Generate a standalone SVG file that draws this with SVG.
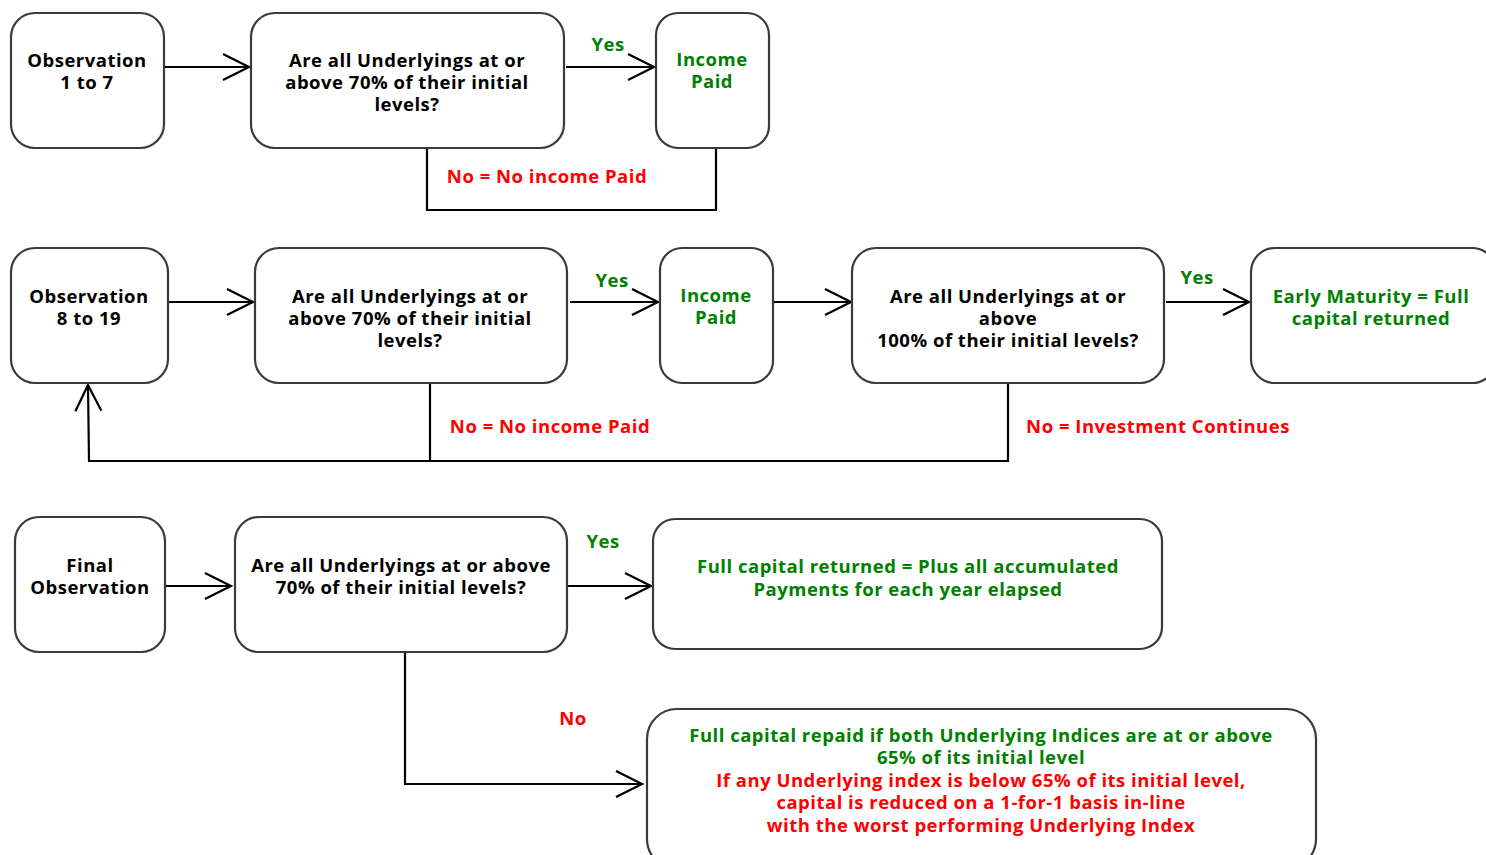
<svg xmlns="http://www.w3.org/2000/svg" width="1486" height="855" viewBox="0 0 1486 855">
<style>
.box{fill:#fff;stroke:#3a3a3a;stroke-width:2.2}
.t{font-family:"Open Sans","Noto Sans",sans-serif;font-weight:700;font-size:18.5px;letter-spacing:0.5px;text-anchor:middle}
.k{fill:#000}
.g{fill:#008000}
.r{fill:#ff0000}
.c{fill:none;stroke:#000;stroke-width:2.2}
</style>
<defs>
<marker id="arr" markerUnits="userSpaceOnUse" viewBox="0 0 30 30" markerWidth="30" markerHeight="30" refX="27" refY="14" orient="auto">
<path d="M1,1 L27,14 L1,27" fill="none" stroke="#000" stroke-width="2.2"/>
</marker>
</defs>
<rect width="1486" height="855" fill="#fff"/>
<g id="connectors">
<line class="c" x1="165" y1="67" x2="249" y2="67" marker-end="url(#arr)"/>
<line class="c" x1="566" y1="67" x2="654" y2="67" marker-end="url(#arr)"/>
<polyline class="c" points="427,148 427,210 716,210 716,148"/>
<line class="c" x1="168" y1="302" x2="253" y2="302" marker-end="url(#arr)"/>
<line class="c" x1="570" y1="302" x2="658" y2="302" marker-end="url(#arr)"/>
<line class="c" x1="773" y1="302" x2="851" y2="302" marker-end="url(#arr)"/>
<line class="c" x1="1166" y1="302" x2="1249" y2="302" marker-end="url(#arr)"/>
<line class="c" x1="430" y1="383" x2="430" y2="461"/>
<polyline class="c" points="1008,383 1008,461 89,461 88,385" marker-end="url(#arr)"/>
<line class="c" x1="166" y1="586" x2="231" y2="586" marker-end="url(#arr)"/>
<line class="c" x1="567" y1="586" x2="651" y2="586" marker-end="url(#arr)"/>
<polyline class="c" points="405,652 405,784 642,784" marker-end="url(#arr)"/>
<text class="t g" x="608" y="51">Yes</text>
<text class="t r" x="547" y="183">No = No income Paid</text>
<text class="t g" x="612" y="287">Yes</text>
<text class="t g" x="1197" y="284">Yes</text>
<text class="t r" x="550" y="433">No = No income Paid</text>
<text class="t r" x="1158" y="433">No = Investment Continues</text>
<text class="t g" x="603" y="548">Yes</text>
<text class="t r" x="573" y="725">No</text>
</g>
<g id="obs1to7">
<rect class="box" x="11" y="13" width="153" height="135" rx="24"/>
<text class="t k" x="87" y="67">Observation</text>
<text class="t k" x="87" y="89">1 to 7</text>
</g>
<g id="q1">
<rect class="box" x="251" y="13" width="313" height="135" rx="24"/>
<text class="t k" x="407" y="67">Are all Underlyings at or</text>
<text class="t k" x="407" y="89">above 70% of their initial</text>
<text class="t k" x="407" y="111">levels?</text>
</g>
<g id="income1">
<rect class="box" x="656" y="13" width="113" height="135" rx="22"/>
<text class="t g" x="712" y="66">Income</text>
<text class="t g" x="712" y="88">Paid</text>
</g>
<g id="obs8to19">
<rect class="box" x="11" y="248" width="157" height="135" rx="24"/>
<text class="t k" x="89" y="303">Observation</text>
<text class="t k" x="89" y="325">8 to 19</text>
</g>
<g id="q2">
<rect class="box" x="255" y="248" width="312" height="135" rx="24"/>
<text class="t k" x="410" y="303">Are all Underlyings at or</text>
<text class="t k" x="410" y="325">above 70% of their initial</text>
<text class="t k" x="410" y="347">levels?</text>
</g>
<g id="income2">
<rect class="box" x="660" y="248" width="113" height="135" rx="22"/>
<text class="t g" x="716" y="302">Income</text>
<text class="t g" x="716" y="324">Paid</text>
</g>
<g id="q3">
<rect class="box" x="852" y="248" width="312" height="135" rx="24"/>
<text class="t k" x="1008" y="303">Are all Underlyings at or</text>
<text class="t k" x="1008" y="325">above</text>
<text class="t k" x="1008" y="347">100% of their initial levels?</text>
</g>
<g id="earlyMaturity">
<rect class="box" x="1251" y="248" width="245" height="135" rx="24"/>
<text class="t g" x="1371" y="303">Early Maturity = Full</text>
<text class="t g" x="1371" y="325">capital returned</text>
</g>
<g id="finalObs">
<rect class="box" x="15" y="517" width="150" height="135" rx="24"/>
<text class="t k" x="90" y="572">Final</text>
<text class="t k" x="90" y="594">Observation</text>
</g>
<g id="q4">
<rect class="box" x="235" y="517" width="332" height="135" rx="24"/>
<text class="t k" x="401" y="572">Are all Underlyings at or above</text>
<text class="t k" x="401" y="594">70% of their initial levels?</text>
</g>
<g id="fullCapital">
<rect class="box" x="653" y="519" width="509" height="130" rx="22"/>
<text class="t g" x="908" y="573">Full capital returned = Plus all accumulated</text>
<text class="t g" x="908" y="596">Payments for each year elapsed</text>
</g>
<g id="capitalRepaid">
<rect class="box" x="647" y="709" width="669" height="160" rx="30"/>
<text class="t g" x="981" y="742">Full capital repaid if both Underlying Indices are at or above</text>
<text class="t g" x="981" y="764">65% of its initial level</text>
<text class="t r" x="981" y="787">If any Underlying index is below 65% of its initial level,</text>
<text class="t r" x="981" y="809">capital is reduced on a 1-for-1 basis in-line</text>
<text class="t r" x="981" y="832">with the worst performing Underlying Index</text>
</g>
</svg>
